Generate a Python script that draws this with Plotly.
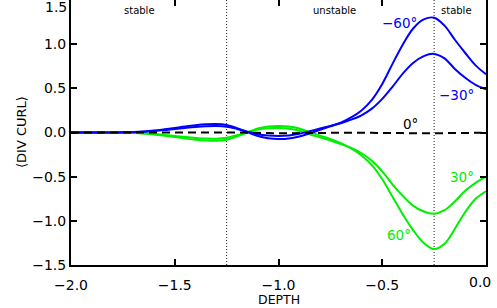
import plotly.graph_objects as go

depth = [-2.0, -1.95, -1.9, -1.85, -1.8, -1.75, -1.7, -1.65, -1.6, -1.55, -1.5, -1.45, -1.4, -1.35, -1.3,
         -1.25, -1.2, -1.15, -1.1, -1.05, -1.0, -0.95, -0.9, -0.85, -0.8, -0.75, -0.7, -0.65, -0.6,
         -0.55, -0.5, -0.45, -0.4, -0.35, -0.3, -0.25, -0.2, -0.15, -0.1, -0.05, 0.0]

neg60 = [0, 0, 0, 0, 0.001, 0.003, 0.006, 0.012, 0.022, 0.036, 0.052, 0.068, 0.082, 0.092, 0.096,
         0.085, 0.05, 0.005, -0.04, -0.065, -0.074, -0.068, -0.045, -0.01, 0.03, 0.07, 0.11, 0.17, 0.25,
         0.37, 0.55, 0.78, 1.00, 1.18, 1.28, 1.30, 1.21, 1.05, 0.90, 0.76, 0.66]

neg30 = [0, 0, 0, 0, 0, 0.002, 0.004, 0.009, 0.016, 0.027, 0.04, 0.052, 0.063, 0.071, 0.074,
         0.066, 0.04, 0.01, -0.02, -0.035, -0.04, -0.035, -0.015, 0.015, 0.045, 0.075, 0.105, 0.145, 0.195,
         0.27, 0.38, 0.52, 0.67, 0.79, 0.865, 0.89, 0.84, 0.72, 0.62, 0.54, 0.49]

pos30 = [0, 0, 0, 0, 0, -0.002, -0.004, -0.009, -0.016, -0.027, -0.04, -0.052, -0.062, -0.069, -0.07,
         -0.06, -0.03, 0.005, 0.035, 0.047, 0.05, 0.042, 0.02, -0.02, -0.055, -0.09, -0.13, -0.175, -0.235,
         -0.32, -0.44, -0.59, -0.72, -0.83, -0.895, -0.92, -0.88, -0.78, -0.66, -0.57, -0.50]

pos60 = [0, 0, 0, 0, -0.001, -0.002, -0.006, -0.012, -0.022, -0.036, -0.052, -0.068, -0.082, -0.091, -0.094,
         -0.082, -0.045, 0.0, 0.045, 0.068, 0.074, 0.068, 0.045, 0.005, -0.035, -0.075, -0.12, -0.18, -0.26,
         -0.37, -0.53, -0.73, -0.93, -1.11, -1.25, -1.32, -1.26, -1.09, -0.90, -0.75, -0.665]

zero = [0, 0, 0, 0, 0, 0, 0, 0, 0, 0, 0, 0, 0, 0, 0,
        0, 0, -0.002, -0.004, -0.006, -0.008, -0.008, -0.007, -0.006, -0.005, -0.004, -0.004, -0.004, -0.004,
        -0.004, -0.005, -0.006, -0.007, -0.008, -0.008, -0.008, -0.007, -0.006, -0.005, -0.004, -0.004]

boundaries = [-1.25, -0.25]
regions = [("stable", -1.67), ("unstable", -0.73), ("stable", -0.14)]
curve_labels = [("\u221260\u00b0", -0.415, 1.24, "#0000ff"),
                ("\u221230\u00b0", -0.14, 0.42, "#0000ff"),
                ("0\u00b0", -0.366, 0.10, "#000000"),
                ("30\u00b0", -0.117, -0.50, "#00ee00"),
                ("60\u00b0", -0.42, -1.165, "#00ee00")]
yticks = [-1.5, -1.0, -0.5, 0.0, 0.5, 1.0, 1.5]
xticks = [-2.0, -1.5, -1.0, -0.5, 0.0]

FONT = "DejaVu Sans"
GREEN = "#00ee00"
BLUE = "#0000ff"

fig = go.Figure()
for ys in (pos30, pos60):
    fig.add_trace(go.Scatter(x=depth, y=ys, mode="lines", line=dict(color=GREEN, width=2, shape="spline"),
                             showlegend=False))
for ys in (neg30, neg60):
    fig.add_trace(go.Scatter(x=depth, y=ys, mode="lines", line=dict(color=BLUE, width=2, shape="spline"),
                             showlegend=False))
fig.add_trace(go.Scatter(x=depth, y=zero, mode="lines",
                         line=dict(color="black", width=2, dash="8px,5px", shape="spline"), showlegend=False))

for b in boundaries:
    fig.add_shape(type="line", x0=b, x1=b, y0=0, y1=1, xref="x", yref="paper",
                  line=dict(color="#222222", width=1, dash="1px,2px"), layer="below")

ann = []
for txt, xv in regions:
    ann.append(dict(x=xv, y=1, xref="x", yref="paper", text=txt, showarrow=False, yanchor="top", yshift=-3,
                    font=dict(family=FONT, size=10, color="black")))
for txt, xv, yv, col in curve_labels:
    ann.append(dict(x=xv, y=yv, xref="x", yref="y", text=txt, showarrow=False,
                    font=dict(family=FONT, size=13.5, color=col)))
# edge tick labels (nudged inside the window like the original)
ann.append(dict(x=0, y=1.5, xref="paper", yref="y", text="1.5", showarrow=False, xanchor="right",
                yanchor="top", xshift=-2, yshift=3, font=dict(family=FONT, size=14, color="black")))
ann.append(dict(x=0.0, y=0, xref="x", yref="paper", text="0.0", showarrow=False, xanchor="center",
                yanchor="top", xshift=-6, yshift=-7, font=dict(family=FONT, size=14, color="black")))
ann.append(dict(x=-1.0, y=0, xref="x", yref="paper", text="DEPTH", showarrow=False, yanchor="bottom",
                yshift=-43, borderpad=0, font=dict(family=FONT, size=12.5, color="black")))
ann.append(dict(x=-59 / 415, y=0.5, xref="paper", yref="paper", text="\u27e8DIV CURL\u27e9", showarrow=False,
                textangle=-90, font=dict(family=FONT, size=13, color="black")))

fig.update_layout(
    width=497, height=308, margin=dict(l=71, r=11, t=0, b=43),
    paper_bgcolor="white", plot_bgcolor="white", annotations=ann,
    font=dict(family=FONT, size=14, color="black"),
)
fig.update_xaxes(range=[-2.0, 0.0], tickvals=xticks,
                 ticktext=["\u22122.0", "\u22121.5", "\u22121.0", "\u22120.5", ""],
                 ticks="inside", ticklen=6, tickwidth=1.5, tickcolor="black",
                 showline=True, linecolor="black", linewidth=2, mirror="ticks",
                 showgrid=False, zeroline=False, automargin=False, ticklabelstandoff=6)
fig.update_yaxes(range=[-1.5, 1.5], tickvals=yticks,
                 ticktext=["\u22121.5", "\u22121.0", "\u22120.5", "0.0", "0.5", "1.0", ""],
                 ticks="inside", ticklen=6, tickwidth=1.5, tickcolor="black",
                 showline=True, linecolor="black", linewidth=2, mirror="ticks",
                 showgrid=False, zeroline=False, automargin=False)

fig.write_html("out.html", config={"displayModeBar": False},
               post_script="document.body.style.margin='0';document.body.style.padding='0';")
